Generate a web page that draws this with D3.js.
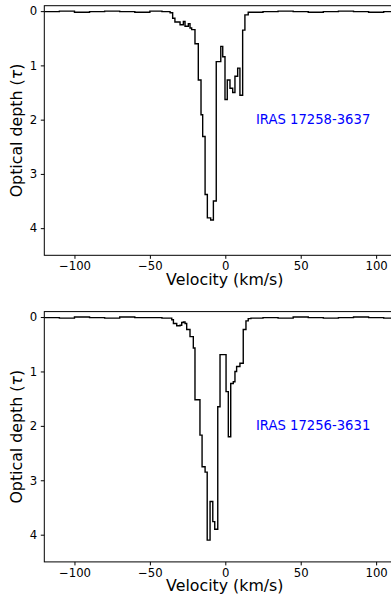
<!DOCTYPE html>
<html>
<head>
<meta charset="utf-8">
<script src="https://cdn.jsdelivr.net/npm/d3@7"></script>
<style>
  body { margin: 0; background: #fff; }
  svg { display: block; font-family: "DejaVu Sans", sans-serif; }
</style>
</head>
<body>
<svg id="chart" width="391" height="594"></svg>
<script>
// Channel edges (km/s) and optical depth per channel
const edges1 = [-120, -110, -100, -90, -80, -70, -60, -50, -42, -36.6,
  -34.9, -33.4, -30.0, -27.8, -26.7, -24.5, -23.4, -22.3, -20.1, -17.9,
  -16.1, -15.0, -13.4, -11.9, -9.7, -7.9, -6.0, -3.0, -1.7, -0.2,
  1.3, 3.1, 4.9, 6.4, 8.2, 9.7, 11.5, 13.0, 15.2, 18,
  25, 35, 45, 55, 65, 75, 85, 95, 105, 120];
const tau1 = [0.01, 0.0, 0.02, 0.01, 0.0, 0.01, 0.02, 0.0, 0.01,
  0.03, 0.13, 0.20, 0.25, 0.19, 0.28, 0.23, 0.31, 0.34, 0.60,
  1.27, 1.91, 2.31, 3.38, 3.81, 3.85, 3.50, 0.93, 0.65, 0.84,
  1.63, 1.27, 1.42, 1.50, 1.20, 1.05, 1.55, 0.35, 0.07, 0.02,
  0.02, 0.01, 0.0, 0.01, 0.02, 0.01, 0.0, 0.01, 0.02, 0.01];

const edges2 = [-120, -110, -100, -90, -80, -70, -60, -50, -42, -35.5,
  -34.4, -32.2, -30.0, -28.9, -27.8, -26.7, -25.6, -23.4, -21.2, -20.1,
  -16.8, -15.4, -13.4, -12.0, -10.1, -8.3, -7.0, -5.0, -3.5, 0.5,
  2.0, 3.6, 5.3, 6.4, 7.5, 9.7, 11.9, 13.7, 15.2, 17,
  25, 35, 45, 55, 65, 75, 85, 95, 105, 120];
const tau2 = [0.01, 0.02, 0.0, 0.01, 0.02, 0.0, 0.01, 0.01, 0.02,
  0.05, 0.12, 0.16, 0.15, 0.10, 0.09, 0.12, 0.23, 0.36, 0.57,
  1.52, 2.17, 2.75, 2.85, 4.10, 3.39, 3.76, 3.90, 1.65, 0.69,
  1.37, 2.20, 1.22, 1.19, 1.00, 0.91, 0.85, 0.23, 0.07, 0.03,
  0.02, 0.01, 0.02, 0.0, 0.01, 0.02, 0.01, 0.0, 0.01, 0.02];

const xTicks = [-100, -50, 0, 50, 100];
const yTicks = [0, 1, 2, 3, 4];
const sources = ["IRAS 17258-3637", "IRAS 17256-3631"];

const svg = d3.select("#chart");
const left = 44.3, right = 406.3;
const x = d3.scaleLinear().domain([-120, 120]).range([left, right]);

const panels = [
  { edges: edges1, tau: tau1, top: 5.7, bottom: 255.3, name: sources[0] },
  { edges: edges2, tau: tau2, top: 311.6, bottom: 561.9, name: sources[1] }
];

panels.forEach(function(p, k) {
  const y = d3.scaleLinear().domain([-0.1, 4.5]).range([p.top, p.bottom]);
  const g = svg.append("g");

  const clipId = "clip" + k;
  g.append("clipPath").attr("id", clipId)
    .append("rect")
    .attr("x", left).attr("y", p.top)
    .attr("width", right - left).attr("height", p.bottom - p.top);

  // step spectrum
  const pts = p.tau.map(function(t, i) { return [p.edges[i], t]; });
  pts.push([p.edges[p.edges.length - 1], p.tau[p.tau.length - 1]]);
  const line = d3.line()
    .x(function(d) { return x(d[0]); })
    .y(function(d) { return y(d[1]); })
    .curve(d3.curveStepAfter);

  g.append("path")
    .datum(pts)
    .attr("clip-path", "url(#" + clipId + ")")
    .attr("fill", "none")
    .attr("stroke", "#000")
    .attr("stroke-width", 1.4)
    .attr("d", line);

  // frame
  g.append("rect")
    .attr("x", left).attr("y", p.top)
    .attr("width", right - left).attr("height", p.bottom - p.top)
    .attr("fill", "none").attr("stroke", "#000").attr("stroke-width", 1);

  // axes
  const xAxis = d3.axisBottom(x).tickValues(xTicks).tickSize(3.5).tickPadding(3)
    .tickFormat(function(d) { return d < 0 ? "\u2212" + Math.abs(d) : d; });
  const gx = g.append("g").attr("transform", "translate(0," + p.bottom + ")").call(xAxis);
  gx.select(".domain").remove();
  gx.selectAll("text").attr("font-size", 11.7).attr("font-family", "DejaVu Sans").attr("fill", "#000");

  const yAxis = d3.axisLeft(y).tickValues(yTicks).tickSize(3.5).tickPadding(3.5)
    .tickFormat(d3.format("d"));
  const gy = g.append("g").attr("transform", "translate(" + left + ",0)").call(yAxis);
  gy.select(".domain").remove();
  gy.selectAll("text").attr("font-size", 11.7).attr("font-family", "DejaVu Sans").attr("fill", "#000");

  // axis labels
  g.append("text")
    .attr("x", x(0) - 0.5).attr("y", p.bottom + 29.5)
    .attr("text-anchor", "middle").attr("font-size", 15.8)
    .text("Velocity (km/s)");

  const ly = g.append("text")
    .attr("transform", "translate(21.5," + ((p.top + p.bottom) / 2) + ") rotate(-90)")
    .attr("text-anchor", "middle").attr("font-size", 15.8);
  ly.append("tspan").text("Optical depth (");
  ly.append("tspan").attr("font-style", "italic").text("\u03c4");
  ly.append("tspan").text(")");

  // source name
  g.append("text")
    .attr("x", x(20.3)).attr("y", y(2) + 4.5)
    .attr("font-size", 13.2).attr("fill", "#0000ff")
    .text(p.name);
});
</script>
</body>
</html>
